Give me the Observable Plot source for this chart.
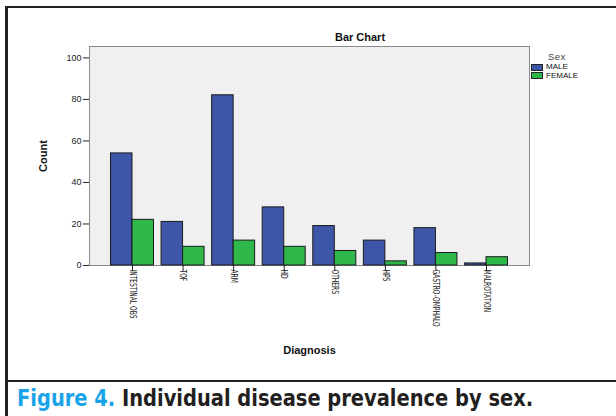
<!DOCTYPE html>
<html>
<head>
<meta charset="utf-8">
<script src="https://cdn.jsdelivr.net/npm/d3@7"></script>
<script src="https://cdn.jsdelivr.net/npm/@observablehq/plot@0.6"></script>
<style>
  html, body { margin: 0; padding: 0; background: #fff; }
  #page { position: relative; width: 616px; height: 416px; overflow: hidden; background: #fff; font-family: "Liberation Sans", Arial, sans-serif; }
  #chart { position: absolute; left: 0; top: 0; }
  .bline { position: absolute; background: #222; }
  #title { position: absolute; left: 300px; width: 120px; top: 31px; text-align: center; font-weight: bold; font-size: 11px; color: #111; }
  #legend { position: absolute; left: 531px; top: 51px; font-size: 8px; color: #111; }
  #legend .hdr { font-size: 9.5px; line-height: 11px; color: #444; margin-left: 17px; letter-spacing: 0.5px; margin-bottom: 1px; }
  #legend .row { display: flex; align-items: center; height: 8.5px; }
  #legend .row span { line-height: 8px; }
  #legend .sw { width: 10px; height: 5px; border: 1px solid #222; margin-right: 3px; }
  #caption { position: absolute; left: 17px; top: 385px; font-family: "Liberation Sans Narrow", "Arial Narrow", "DejaVu Sans Condensed", sans-serif; font-weight: bold; font-size: 23px; color: #231f20; white-space: nowrap; transform-origin: 0 0; }
  #caption .fig { color: #1aa3e8; }
  svg g[aria-label="x-axis label"] text, svg g[aria-label="y-axis label"] text { font-weight: bold; font-size: 11px; fill: #111; }
  svg g[aria-label="x-axis tick label"] text { font-family: "DejaVu Sans Condensed", "Liberation Sans Narrow", sans-serif; font-size: 8.5px; }
</style>
</head>
<body>
<div id="page">
  <div id="chart"></div>
  <div id="title">Bar Chart</div>
  <div id="legend"></div>
  <div class="bline" style="left:5px;top:6px;width:611px;height:2px;"></div>
  <div class="bline" style="left:5px;top:6px;width:3px;height:410px;"></div>
  <div class="bline" style="left:5px;top:380px;width:611px;height:2px;"></div>
  <div id="caption"><span class="fig">Figure 4.</span> Individual disease prevalence by sex.</div>
</div>
<script>
const categories = ["INTESTINAL OBS", "TOF", "ARM", "HD", "OTHERS", "HPS", "GASTRO-OMPHALO", "MALROTATION"];
const maleCounts = [54, 21, 82, 28, 19, 12, 18, 1];
const femaleCounts = [22, 9, 12, 9, 7, 2, 6, 4];
const sexes = ["MALE", "FEMALE"];
const sexColors = ["#3d56a8", "#2eb84a"];
const yTicks = [0, 20, 40, 60, 80, 100];

const rows = categories.flatMap((d, i) => [
  {diagnosis: d, sex: sexes[0], count: maleCounts[i]},
  {diagnosis: d, sex: sexes[1], count: femaleCounts[i]}
]);

const W = 616, H = 383;
const mL = 89, mR = 87, mT = 46, mB = 118;
const pIn = 0.15, pOut = 0.425;
const step = (W - mL - mR) / (categories.length - pIn + 2 * pOut);
const half = step * (1 - pIn) / 2;

const chart = Plot.plot({
  width: W, height: H,
  marginLeft: mL, marginRight: mR, marginTop: mT, marginBottom: mB,
  style: {fontFamily: "Liberation Sans, Arial, sans-serif", fontSize: "9px", color: "#222", background: "transparent"},
  x: {domain: categories, paddingInner: pIn, paddingOuter: pOut, round: false},
  y: {domain: [0, 105.5]},
  color: {domain: sexes, range: sexColors},
  marks: [
    Plot.frame({fill: "#f0f0f0", stroke: "#8a8a8a"}),
    Plot.barY(rows.filter(d => d.sex === sexes[0]), {x: "diagnosis", y: "count", fill: "sex", stroke: "#1b1b1b", strokeWidth: 1, insetLeft: 0, insetRight: half}),
    Plot.barY(rows.filter(d => d.sex === sexes[1]), {x: "diagnosis", y: "count", fill: "sex", stroke: "#1b1b1b", strokeWidth: 1, insetLeft: half, insetRight: 0}),
    Plot.axisY({ticks: yTicks, tickSize: 6, tickPadding: 2, label: "Count", labelAnchor: "center", labelOffset: 50, labelArrow: "none"}),
    Plot.axisX({tickSize: 6, tickPadding: -2, tickRotate: 90, label: "Diagnosis", labelAnchor: "center", labelOffset: 88, labelArrow: "none"})
  ]
});
document.getElementById("chart").appendChild(chart);

// condense x tick labels to match the narrow face of the reference
chart.querySelectorAll('g[aria-label="x-axis tick label"] text').forEach(t => {
  const len = t.getComputedTextLength();
  t.setAttribute("textLength", (len * 0.78).toFixed(1));
  t.setAttribute("lengthAdjust", "spacingAndGlyphs");
});

const legend = document.getElementById("legend");
legend.innerHTML = `<div class="hdr">Sex</div>` + sexes.map((s, i) =>
  `<div class="row"><div class="sw" style="background:${sexColors[i]}"></div><span>${s}</span></div>`).join("");

// fit caption to the reference's width
const cap = document.getElementById("caption");
const cw = cap.getBoundingClientRect().width;
cap.style.transform = `scaleX(${(516 / cw).toFixed(3)})`;
</script>
</body>
</html>
